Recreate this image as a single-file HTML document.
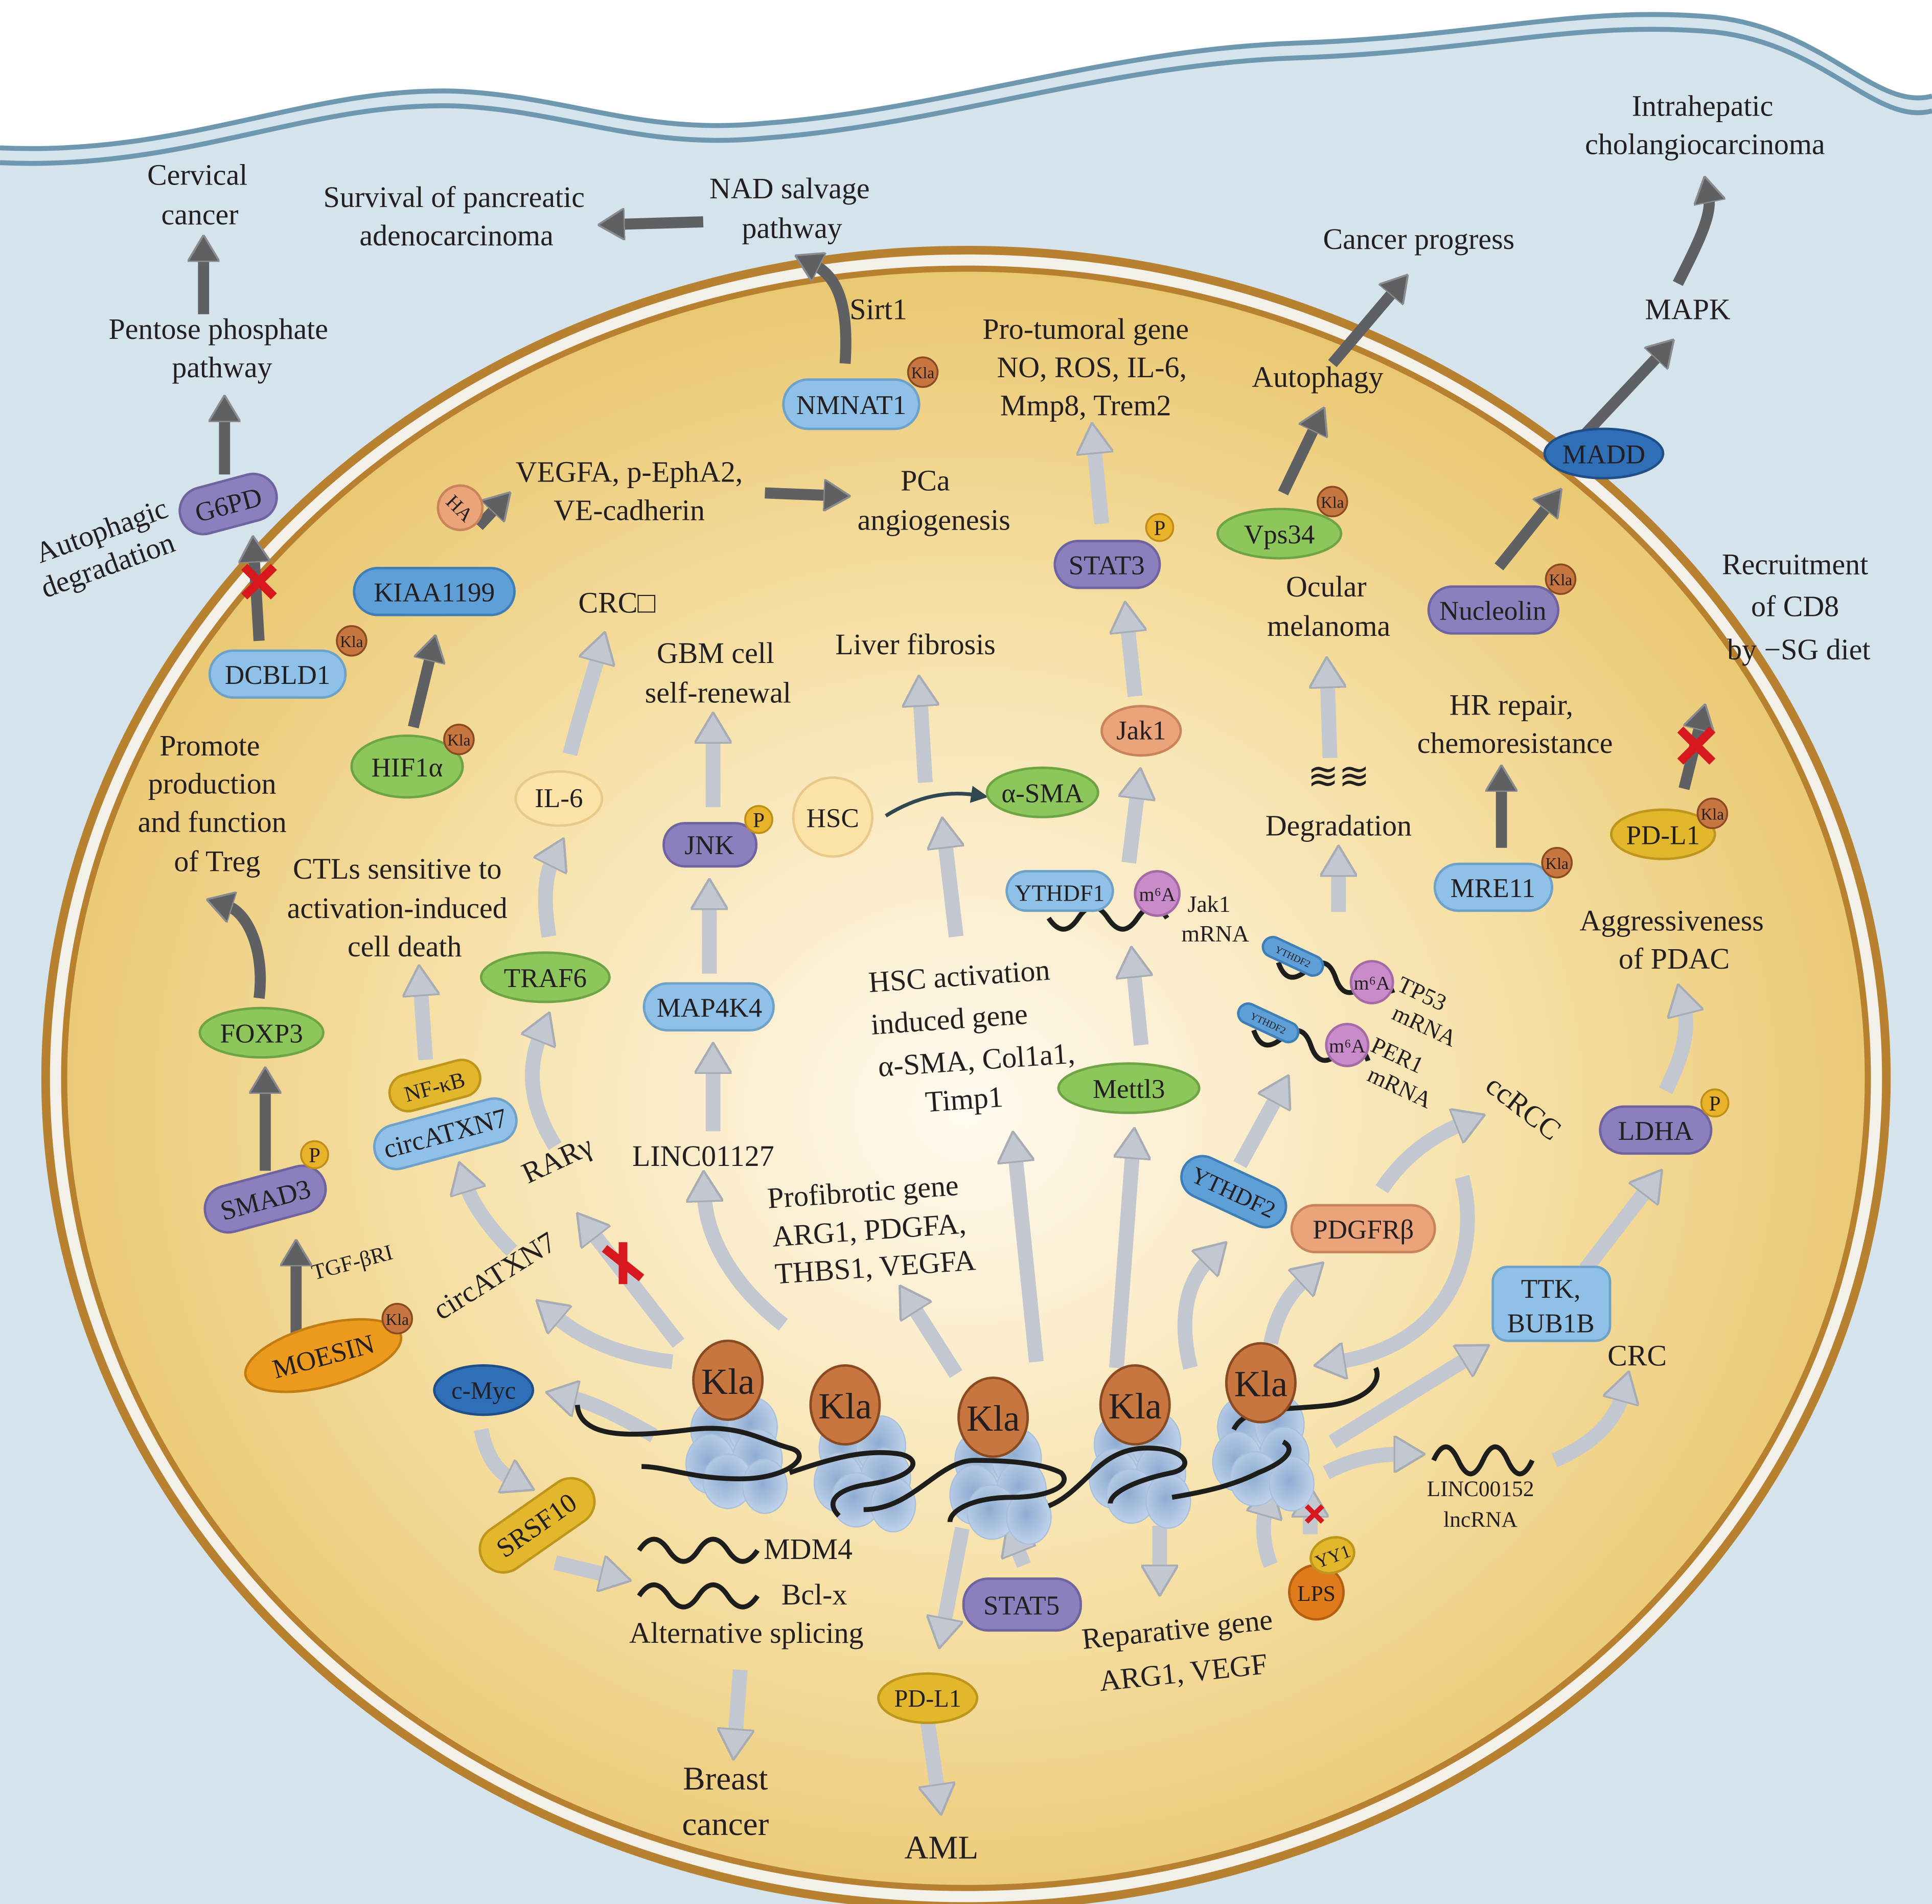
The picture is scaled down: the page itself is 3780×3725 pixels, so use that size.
<!DOCTYPE html>
<html><head><meta charset="utf-8"><style>html,body{margin:0;padding:0;background:#fff}svg{display:block}text{font-family:"Liberation Serif",serif;fill:#231f20;text-anchor:middle}</style></head><body>
<svg width="3780" height="3725" viewBox="0 0 1566 1545" preserveAspectRatio="none" xmlns="http://www.w3.org/2000/svg">
<defs>
<radialGradient id="nuc" cx="50%" cy="52%" r="55%"><stop offset="0" stop-color="#fffaf0"/><stop offset="0.55" stop-color="#f6e0a6"/><stop offset="1" stop-color="#e8c46a"/></radialGradient>
<radialGradient id="bead" cx="45%" cy="45%" r="60%"><stop offset="0" stop-color="#8eacd2"/><stop offset="1" stop-color="#c2d4ea"/></radialGradient>
<marker id="lh" viewBox="0 0 20 24" refX="4" refY="12" markerWidth="26" markerHeight="30" markerUnits="userSpaceOnUse" orient="auto"><path d="M0,0 L20,12 L0,24 z" fill="#c3c7d0" stroke="#a8acb5" stroke-width="1.5"/></marker>
<marker id="dh" viewBox="0 0 20 24" refX="4" refY="12" markerWidth="22" markerHeight="26" markerUnits="userSpaceOnUse" orient="auto"><path d="M0,0 L20,12 L0,24 z" fill="#5f6063" stroke="#8a8b8e" stroke-width="1.5"/></marker>
<marker id="th" viewBox="0 0 20 20" refX="4" refY="10" markerWidth="14" markerHeight="14" markerUnits="userSpaceOnUse" orient="auto"><path d="M0,0 L20,10 L0,20 z" fill="#2f4750"/></marker>
</defs>
<rect width="1566" height="1545" fill="#d5e3ec"/>
<path d="M0,0 L0,118 C150,125 250,68 370,72 C460,76 520,108 620,98 C760,88 900,38 1050,33 C1200,28 1280,2 1390,12 C1480,22 1520,88 1566,76 L1566,0 z" fill="#fff"/>
<path d="M0,120 C150,127 250,70 370,74 C460,78 520,110 620,100 C760,90 900,40 1050,35 C1200,30 1280,4 1390,14 C1480,24 1520,90 1566,78" fill="none" stroke="#6e98b0" stroke-width="4"/>
<path d="M0,132 C150,139 250,82 370,86 C460,90 520,122 620,112 C760,102 900,52 1050,47 C1200,42 1280,16 1390,26 C1480,36 1520,102 1566,90" fill="none" stroke="#6e98b0" stroke-width="4"/>
<ellipse cx="783" cy="875" rx="746" ry="672" fill="#f3f0ea" stroke="#b7812f" stroke-width="7"/>
<ellipse cx="783" cy="875" rx="731" ry="657" fill="url(#nuc)" stroke="#b7812f" stroke-width="5"/>
<g font-size="24">
<text x="160" y="150">Cervical</text><text x="162" y="182">cancer</text>
<text x="177" y="275">Pentose phosphate</text><text x="180" y="306">pathway</text>
<text x="368" y="168">Survival of pancreatic</text><text x="370" y="199">adenocarcinoma</text>
<text x="640" y="161">NAD salvage</text><text x="642" y="193">pathway</text>
<text x="712" y="259">Sirt1</text>
<text x="1380" y="94">Intrahepatic</text><text x="1382" y="125">cholangiocarcinoma</text>
<text x="1368" y="259">MAPK</text>
<text x="1150" y="202">Cancer progress</text>
<text x="1068" y="314">Autophagy</text>
<text x="1455" y="466">Recruitment</text><text x="1455" y="500">of CD8</text><text x="1458" y="535">by −SG diet</text>
<text x="1225" y="580">HR repair,</text><text x="1228" y="611">chemoresistance</text>
<text x="1355" y="755">Aggressiveness</text><text x="1357" y="786">of PDAC</text>
<text x="1327" y="1108">CRC</text>
<text x="880" y="275">Pro-tumoral gene</text><text x="885" y="306">NO, ROS, IL-6,</text><text x="880" y="337">Mmp8, Trem2</text>
<text x="1075" y="484">Ocular</text><text x="1077" y="516">melanoma</text>
<text x="1085" y="678">Degradation</text>
<text x="742" y="531">Liver fibrosis</text>
<text x="580" y="538">GBM cell</text><text x="582" y="570">self-renewal</text>
<text x="510" y="391">VEGFA, p-EphA2,</text><text x="510" y="422">VE-cadherin</text>
<text x="750" y="398">PCa</text><text x="757" y="430">angiogenesis</text>
<text x="500" y="497">CRC□</text>
<text x="170" y="613">Promote</text><text x="172" y="644">production</text><text x="172" y="675">and function</text><text x="176" y="707">of Treg</text>
<text x="322" y="713">CTLs sensitive to</text><text x="322" y="745">activation-induced</text><text x="328" y="776">cell death</text>
<text x="570" y="946">LINC01127</text>
<text x="778" y="800" transform="rotate(-4 778 800)">HSC activation</text><text x="770" y="835" transform="rotate(-4 770 835)">induced gene</text><text x="792" y="868" transform="rotate(-4 792 868)">α-SMA, Col1a1,</text><text x="782" y="900" transform="rotate(-4 782 900)">Timp1</text>
<text x="700" y="975" transform="rotate(-4 700 975)">Profibrotic gene</text><text x="705" y="1006" transform="rotate(-4 705 1006)">ARG1, PDGFA,</text><text x="710" y="1036" transform="rotate(-4 710 1036)">THBS1, VEGFA</text>
<text x="605" y="1333">Alternative splicing</text>
<text x="655" y="1265">MDM4</text><text x="660" y="1302">Bcl-x</text>
<text x="588" y="1452" font-size="27">Breast</text><text x="588" y="1489" font-size="27">cancer</text>
<text x="763" y="1508" font-size="27">AML</text>
<text x="955" y="1330" transform="rotate(-6 955 1330)">Reparative gene</text><text x="960" y="1365" transform="rotate(-6 960 1365)">ARG1, VEGF</text>
<text x="85" y="438" transform="rotate(-20 85 438)">Autophagic</text><text x="90" y="466" transform="rotate(-20 90 466)">degradation</text>
<text x="1230" y="905" transform="rotate(38 1230 905)">ccRCC</text>
<text x="455" y="948" transform="rotate(-25 455 948)">RARγ</text>
<text x="405" y="1042" transform="rotate(-32 405 1042)">circATXN7</text>
<text x="1150" y="812" font-size="19" transform="rotate(25 1150 812)">TP53</text><text x="1152" y="838" font-size="19" transform="rotate(25 1152 838)">mRNA</text>
<text x="1130" y="862" font-size="19" transform="rotate(25 1130 862)">PER1</text><text x="1132" y="888" font-size="19" transform="rotate(25 1132 888)">mRNA</text>
<text x="980" y="740" font-size="19">Jak1</text><text x="985" y="764" font-size="19">mRNA</text>
<text x="287" y="1030" font-size="18" transform="rotate(-15 287 1030)">TGF-βRI</text>
<text x="1200" y="1214" font-size="18">LINC00152</text><text x="1200" y="1239" font-size="18">lncRNA</text>
<text x="1085" y="640" font-size="30">≋≋</text>
</g>
<g fill="none" stroke="#5f6063" stroke-width="9" marker-end="url(#dh)">
<path d="M165,255 L165,208"/><path d="M182,385 L182,338"/><path d="M210,520 L206,452"/>
<path d="M570,180 L502,182"/><path d="M685,295 C688,250 680,225 660,215"/>
<path d="M1360,230 C1375,200 1388,175 1385,160"/><path d="M1285,352 L1345,288"/>
<path d="M1080,295 L1130,236"/><path d="M1040,400 L1066,346"/><path d="M1215,460 L1255,410"/>
<path d="M1365,640 L1378,588"/><path d="M1217,688 L1217,638"/>
<path d="M620,400 L672,402"/><path d="M388,427 L402,412"/><path d="M335,590 L349,532"/>
<path d="M210,810 C215,770 200,740 184,735"/><path d="M215,950 L215,883"/><path d="M240,1090 L240,1023"/>
</g>
<path d="M718,662 C745,645 770,642 790,645" fill="none" stroke="#2f4750" stroke-width="3" marker-end="url(#th)"/>
<g fill="none" stroke="#c3c7d0" stroke-width="12" marker-end="url(#lh)">
<path d="M1350,885 C1368,850 1368,830 1365,818"/><path d="M1285,1030 L1335,965"/>
<path d="M1260,1185 C1295,1170 1310,1150 1315,1132"/><path d="M1075,1195 C1100,1182 1120,1180 1135,1180"/>
<path d="M1080,1170 L1190,1102"/><path d="M1030,1270 C1022,1250 1024,1232 1026,1225"/><path d="M1062,1245 L1062,1226"/>
<path d="M1120,965 C1140,935 1165,920 1185,912"/><path d="M1185,955 C1200,1010 1180,1090 1085,1105"/>
<path d="M1030,1090 C1035,1065 1045,1050 1058,1038"/><path d="M965,1110 C955,1070 962,1040 980,1022"/>
<path d="M1005,945 L1035,890"/><path d="M1085,740 L1085,706"/><path d="M1078,615 L1076,553"/>
<path d="M905,1110 L918,935"/><path d="M925,848 L919,788"/><path d="M915,700 L922,643"/><path d="M920,565 L914,508"/><path d="M893,425 L887,363"/>
<path d="M840,1105 L823,938"/><path d="M775,760 L766,683"/><path d="M750,635 L746,568"/>
<path d="M578,655 L578,598"/><path d="M575,790 L575,733"/><path d="M578,918 L578,866"/>
<path d="M635,1075 C590,1040 572,1000 571,970"/><path d="M775,1115 L740,1060"/>
<path d="M462,612 C470,580 480,550 485,532"/><path d="M445,760 C440,730 442,710 448,698"/>
<path d="M450,930 C425,890 430,860 438,840"/><path d="M550,1090 L480,1000"/>
<path d="M345,860 L341,803"/><path d="M415,1015 C395,995 382,975 378,962"/>
<path d="M545,1105 C500,1100 470,1085 450,1068"/><path d="M530,1165 C500,1148 480,1138 462,1134"/>
<path d="M390,1160 C395,1185 405,1195 415,1200"/><path d="M450,1268 L492,1278"/>
<path d="M600,1355 L596,1408"/><path d="M780,1240 L765,1318"/><path d="M752,1398 L760,1453"/>
<path d="M830,1270 L824,1255"/><path d="M940,1238 L940,1275"/>
</g>
<g stroke="#d7191f" stroke-width="7" stroke-linecap="butt">
<path d="M198,460 L222,484 M222,460 L198,484"/><path d="M1362,592 L1388,618 M1388,592 L1362,618"/><path d="M490,1013 L520,1037 M505,1008 L505,1042"/>
<path d="M1059,1222 L1072,1235 M1072,1222 L1059,1235" stroke-width="4"/>
</g>
<g fill="url(#bead)" stroke="#a9c0dd" stroke-width="1">
<g transform="translate(598,1180)"><ellipse cx="-18" cy="-20" rx="20" ry="24"/><ellipse cx="12" cy="-22" rx="20" ry="24"/><ellipse cx="-22" cy="8" rx="20" ry="24"/><ellipse cx="16" cy="4" rx="20" ry="24"/><ellipse cx="-8" cy="22" rx="20" ry="22"/><ellipse cx="22" cy="26" rx="18" ry="22"/></g>
<g transform="translate(702,1195)"><ellipse cx="-18" cy="-20" rx="20" ry="24"/><ellipse cx="12" cy="-22" rx="20" ry="24"/><ellipse cx="-22" cy="8" rx="20" ry="24"/><ellipse cx="16" cy="4" rx="20" ry="24"/><ellipse cx="-8" cy="22" rx="20" ry="22"/><ellipse cx="22" cy="26" rx="18" ry="22"/></g>
<g transform="translate(812,1205)"><ellipse cx="-18" cy="-20" rx="20" ry="24"/><ellipse cx="12" cy="-22" rx="20" ry="24"/><ellipse cx="-22" cy="8" rx="20" ry="24"/><ellipse cx="16" cy="4" rx="20" ry="24"/><ellipse cx="-8" cy="22" rx="20" ry="22"/><ellipse cx="22" cy="26" rx="18" ry="22"/></g>
<g transform="translate(925,1192)"><ellipse cx="-18" cy="-20" rx="20" ry="24"/><ellipse cx="12" cy="-22" rx="20" ry="24"/><ellipse cx="-22" cy="8" rx="20" ry="24"/><ellipse cx="16" cy="4" rx="20" ry="24"/><ellipse cx="-8" cy="22" rx="20" ry="22"/><ellipse cx="22" cy="26" rx="18" ry="22"/></g>
<g transform="translate(1025,1178)"><ellipse cx="-18" cy="-20" rx="20" ry="24"/><ellipse cx="12" cy="-22" rx="20" ry="24"/><ellipse cx="-22" cy="8" rx="20" ry="24"/><ellipse cx="16" cy="4" rx="20" ry="24"/><ellipse cx="-8" cy="22" rx="20" ry="22"/><ellipse cx="22" cy="26" rx="18" ry="22"/></g>
</g>
<path d="M468,1140 C470,1170 520,1165 560,1160 C600,1155 620,1170 640,1175 C660,1180 640,1200 600,1200 C560,1200 540,1190 520,1190 M640,1195 C670,1185 700,1175 730,1180 C750,1185 740,1200 700,1205 C675,1210 670,1220 680,1230 M700,1225 C740,1225 760,1185 790,1185 C830,1185 850,1190 860,1195 C870,1205 850,1215 820,1215 C790,1215 770,1225 770,1235 M850,1222 C880,1210 890,1175 930,1175 C960,1175 970,1190 950,1195 C925,1200 900,1210 900,1220 M950,1215 C980,1210 1000,1205 1020,1195 C1045,1185 1050,1175 1040,1170 M1000,1160 C1010,1140 1040,1145 1080,1140 C1110,1135 1120,1120 1115,1110" fill="none" stroke="#1d1d1b" stroke-width="4"/>
<g fill="#c87640" stroke="#8a4a22" stroke-width="2"><ellipse cx="590" cy="1120" rx="28" ry="32"/><ellipse cx="685" cy="1140" rx="28" ry="32"/><ellipse cx="805" cy="1150" rx="28" ry="32"/><ellipse cx="920" cy="1140" rx="28" ry="32"/><ellipse cx="1022" cy="1122" rx="28" ry="32"/></g>
<g font-size="30"><text x="590" y="1131">Kla</text><text x="685" y="1151">Kla</text><text x="805" y="1161">Kla</text><text x="920" y="1151">Kla</text><text x="1022" y="1133">Kla</text></g>
<g fill="none" stroke="#1d1d1b" stroke-width="4">
<path d="M518,1258 q12,-18 24,0 t24,0 t24,0 t24,0"/><path d="M518,1295 q12,-18 24,0 t24,0 t24,0 t24,0"/>
<path d="M1162,1185 q10,-22 20,0 t20,0 t20,0 t20,0"/>
<path d="M850,745 q12,18 24,0 t24,0 t24,0 t24,0"/>
<path d="M1035,790 q12,18 24,0 t24,0 t24,0 t24,0" transform="rotate(15 1070 790)"/>
<path d="M1015,845 q12,18 24,0 t24,0 t24,0 t24,0" transform="rotate(15 1050 845)"/>
</g>
<g stroke-width="2">
<rect x="145" y="390" width="80" height="38" rx="19" fill="#8b7fbd" stroke="#6f64a0" transform="rotate(-15 185 409)"/>
<rect x="170" y="528" width="110" height="38" rx="19" fill="#8fc1e8" stroke="#6fa2c9"/>
<rect x="635" y="308" width="110" height="40" rx="20" fill="#8fc1e8" stroke="#6fa2c9"/>
<ellipse cx="1300" cy="368" rx="48" ry="20" fill="#2f6fb8" stroke="#1f4f88"/>
<ellipse cx="1037" cy="433" rx="50" ry="20" fill="#8dc65a" stroke="#6ea443"/>
<rect x="1158" y="476" width="105" height="38" rx="19" fill="#8b7fbd" stroke="#6f64a0"/>
<ellipse cx="1348" cy="677" rx="42" ry="20" fill="#e2b72c" stroke="#bf961c"/>
<rect x="1163" y="701" width="95" height="38" rx="19" fill="#8fc1e8" stroke="#6fa2c9"/>
<rect x="1297" y="898" width="90" height="38" rx="19" fill="#8b7fbd" stroke="#6f64a0"/>
<rect x="1210" y="1028" width="95" height="60" rx="12" fill="#8fc1e8" stroke="#6fa2c9"/>
<circle cx="1067" cy="1292" r="22" fill="#e07b1c" stroke="#b45f12"/>
<ellipse cx="1080" cy="1262" rx="18" ry="14" fill="#e2b72c" stroke="#bf961c" transform="rotate(-20 1080 1262)"/>
<rect x="1047" y="978" width="116" height="38" rx="19" fill="#eba47a" stroke="#c9845c"/>
<rect x="955" y="950" width="90" height="34" rx="17" fill="#5f9fd8" stroke="#3f7fb8" transform="rotate(25 1000 967)"/>
<rect x="1022" y="768" width="52" height="16" rx="8" fill="#5f9fd8" stroke="#3f7fb8" transform="rotate(25 1048 776)"/>
<rect x="1002" y="822" width="52" height="16" rx="8" fill="#5f9fd8" stroke="#3f7fb8" transform="rotate(25 1028 830)"/>
<circle cx="1112" cy="797" r="17" fill="#c98bc9" stroke="#a56ba5"/>
<circle cx="1092" cy="848" r="17" fill="#c98bc9" stroke="#a56ba5"/>
<ellipse cx="915" cy="883" rx="57" ry="20" fill="#8dc65a" stroke="#6ea443"/>
<rect x="816" y="707" width="86" height="32" rx="16" fill="#8fc1e8" stroke="#6fa2c9"/>
<circle cx="938" cy="725" r="18" fill="#c98bc9" stroke="#a56ba5"/>
<ellipse cx="925" cy="593" rx="32" ry="20" fill="#eba47a" stroke="#c9845c"/>
<rect x="855" y="439" width="85" height="38" rx="19" fill="#8b7fbd" stroke="#6f64a0"/>
<circle cx="675" cy="663" r="32" fill="#fbe3a8" stroke="#e8c98a"/>
<ellipse cx="845" cy="643" rx="45" ry="20" fill="#8dc65a" stroke="#6ea443"/>
<rect x="538" y="668" width="75" height="35" rx="17" fill="#8b7fbd" stroke="#6f64a0"/>
<rect x="522" y="798" width="105" height="38" rx="19" fill="#8fc1e8" stroke="#6fa2c9"/>
<rect x="287" y="461" width="130" height="38" rx="19" fill="#5f9fd8" stroke="#3f7fb8"/>
<circle cx="373" cy="412" r="18" fill="#eba47a" stroke="#c9845c"/>
<ellipse cx="330" cy="622" rx="45" ry="25" fill="#8dc65a" stroke="#6ea443"/>
<ellipse cx="453" cy="648" rx="35" ry="22" fill="#fbe3a8" stroke="#e8c98a"/>
<ellipse cx="442" cy="793" rx="52" ry="20" fill="#8dc65a" stroke="#6ea443"/>
<ellipse cx="212" cy="838" rx="50" ry="20" fill="#8dc65a" stroke="#6ea443"/>
<rect x="165" y="954" width="100" height="38" rx="19" fill="#8b7fbd" stroke="#6f64a0" transform="rotate(-15 215 973)"/>
<ellipse cx="262" cy="1100" rx="65" ry="25" fill="#eb9a1e" stroke="#c27c12" transform="rotate(-15 262 1100)"/>
<rect x="315" y="866" width="75" height="30" rx="15" fill="#e2b72c" stroke="#bf961c" transform="rotate(-15 352 881)"/>
<rect x="302" y="902" width="118" height="36" rx="18" fill="#8fc1e8" stroke="#6fa2c9" transform="rotate(-15 361 920)"/>
<ellipse cx="392" cy="1128" rx="40" ry="20" fill="#2f6fb8" stroke="#1f4f88"/>
<rect x="383" y="1219" width="105" height="38" rx="19" fill="#e2b72c" stroke="#bf961c" transform="rotate(-35 435 1238)"/>
<ellipse cx="752" cy="1378" rx="40" ry="20" fill="#e2b72c" stroke="#bf961c"/>
<rect x="781" y="1281" width="95" height="42" rx="20" fill="#8b7fbd" stroke="#6f64a0"/>
</g>
<g fill="#c87640" stroke="#8a4a22" stroke-width="1.5"><circle cx="285" cy="520" r="12"/><circle cx="748" cy="302" r="12"/><circle cx="1080" cy="407" r="12"/><circle cx="1265" cy="470" r="12"/><circle cx="1388" cy="660" r="12"/><circle cx="1262" cy="700" r="12"/><circle cx="372" cy="600" r="12"/><circle cx="322" cy="1070" r="12"/></g>
<g fill="#e8b22a" stroke="#c08e16" stroke-width="1.5"><circle cx="1390" cy="895" r="11"/><circle cx="940" cy="428" r="11"/><circle cx="615" cy="665" r="11"/><circle cx="255" cy="937" r="11"/></g>
<g font-size="13"><text x="285" y="525">Kla</text><text x="748" y="307">Kla</text><text x="1080" y="412">Kla</text><text x="1265" y="475">Kla</text><text x="1388" y="665">Kla</text><text x="1262" y="705">Kla</text><text x="372" y="605">Kla</text><text x="322" y="1075">Kla</text></g>
<g font-size="17"><text x="1390" y="901">P</text><text x="940" y="434">P</text><text x="615" y="671">P</text><text x="255" y="943">P</text></g>
<g font-size="22">
<text x="185" y="417" transform="rotate(-15 185 409)">G6PD</text>
<text x="225" y="555">DCBLD1</text><text x="690" y="336">NMNAT1</text>
<text x="1300" y="376">MADD</text><text x="1037" y="441">Vps34</text><text x="1210" y="503">Nucleolin</text>
<text x="1348" y="685">PD-L1</text><text x="1210" y="728">MRE11</text><text x="1342" y="925">LDHA</text>
<text x="1257" y="1053">TTK,</text><text x="1257" y="1081">BUB1B</text>
<text x="1105" y="1005">PDGFRβ</text>
<text x="1000" y="974" font-size="19" transform="rotate(25 1000 967)">YTHDF2</text>
<text x="1048" y="779" font-size="8" transform="rotate(25 1048 776)">YTHDF2</text>
<text x="1028" y="833" font-size="8" transform="rotate(25 1028 830)">YTHDF2</text>
<text x="1112" y="803" font-size="16">m⁶A</text><text x="1092" y="854" font-size="16">m⁶A</text><text x="938" y="731" font-size="16">m⁶A</text>
<text x="915" y="891">Mettl3</text><text x="859" y="731" font-size="19">YTHDF1</text>
<text x="925" y="600">Jak1</text><text x="897" y="466">STAT3</text>
<text x="675" y="671">HSC</text><text x="845" y="651">α-SMA</text>
<text x="575" y="693">JNK</text><text x="575" y="825">MAP4K4</text>
<text x="352" y="488">KIAA1199</text><text x="373" y="418" font-size="16" transform="rotate(45 373 412)">HA</text>
<text x="330" y="630">HIF1α</text><text x="453" y="655">IL-6</text><text x="442" y="801">TRAF6</text><text x="212" y="846">FOXP3</text>
<text x="215" y="981" transform="rotate(-15 215 973)">SMAD3</text>
<text x="262" y="1108" transform="rotate(-15 262 1100)">MOESIN</text>
<text x="352" y="888" font-size="18" transform="rotate(-15 352 881)">NF-κB</text>
<text x="361" y="927" transform="rotate(-15 361 920)">circATXN7</text>
<text x="392" y="1135" font-size="20">c-Myc</text>
<text x="435" y="1245" transform="rotate(-35 435 1238)">SRSF10</text>
<text x="752" y="1385" font-size="20">PD-L1</text><text x="828" y="1310">STAT5</text>
<text x="1067" y="1299" font-size="18">LPS</text><text x="1080" y="1268" font-size="15" transform="rotate(-20 1080 1262)">YY1</text>
</g>
</svg>
</body></html>
